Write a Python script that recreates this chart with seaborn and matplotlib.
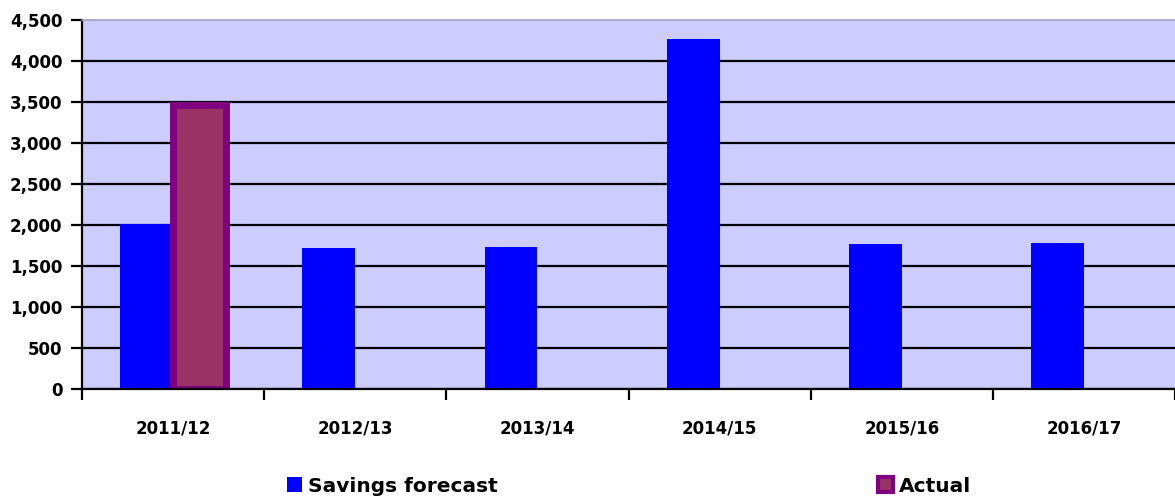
import numpy as np
import pandas as pd
import matplotlib
matplotlib.use("Agg")
import matplotlib.pyplot as plt
import seaborn as sns
from matplotlib.patches import Patch
from matplotlib.ticker import FuncFormatter, FixedLocator

# chart data
years = ["2011/12", "2012/13", "2013/14", "2014/15", "2015/16", "2016/17"]
savings_forecast = [2010, 1720, 1730, 4270, 1770, 1780]
actual = [3460, np.nan, np.nan, np.nan, np.nan, np.nan]
series_names = ["Savings forecast", "Actual"]
y_ticks = [0, 500, 1000, 1500, 2000, 2500, 3000, 3500, 4000, 4500]

sns.set_theme(style="white")
plt.rcParams["font.family"] = ["DejaVu Sans"]
plt.rcParams["font.weight"] = "bold"
plt.rcParams["text.color"] = "black"

df = pd.DataFrame({
    "Year": years * 2,
    "Value": savings_forecast + actual,
    "Series": [series_names[0]] * len(years) + [series_names[1]] * len(years),
})

fig = plt.figure(figsize=(11.75, 5), dpi=100)
ax = fig.add_axes([82 / 1175, 111 / 500, 1 - 82 / 1175, 369 / 500])
ax.set_facecolor("#CCCCFF")

palette = {"Savings forecast": "#0000FF", "Actual": "#993366"}
sns.barplot(data=df, x="Year", y="Value", hue="Series", hue_order=series_names,
            palette=palette, saturation=1, width=0.58, ax=ax, legend=False)

# style the actual bar with thick purple border
for bar in ax.containers[1]:
    bar.set_edgecolor("#800080")
    bar.set_linewidth(5)
for bar in ax.containers[0]:
    bar.set_linewidth(0)

ax.set_xlim(-0.5, len(years) - 0.5)
ax.set_ylim(0, 4500)
ax.set_yticks(y_ticks)
ax.yaxis.set_major_formatter(FuncFormatter(lambda v, p: f"{int(v):,}"))

ax.set_axisbelow(True)
ax.yaxis.grid(True, color="black", linewidth=1.6)
ax.xaxis.grid(False)
ax.yaxis.get_gridlines()[-1].set_visible(False)

for side in ["left", "bottom"]:
    ax.spines[side].set_color("black")
    ax.spines[side].set_linewidth(1.6)
ax.spines["top"].set_color("#A0A0C8")
ax.spines["top"].set_linewidth(1.2)
ax.spines["right"].set_visible(False)

ax.set_xlabel("")
ax.set_ylabel("")

# category boundary ticks
ax.xaxis.set_minor_locator(FixedLocator(np.arange(-0.5, len(years), 1.0)))
ax.tick_params(axis="x", which="major", length=0, pad=22, labelsize=12, labelcolor="black")
ax.tick_params(axis="x", which="minor", length=8, width=1.6, color="black", direction="out", bottom=True)
ax.tick_params(axis="y", which="major", length=8, width=1.6, color="black", direction="out",
               left=True, pad=6, labelsize=12, labelcolor="black")
for lbl in ax.get_xticklabels() + ax.get_yticklabels():
    lbl.set_fontweight("bold")

handles = [
    Patch(facecolor="#0000FF", edgecolor="#0000FF", linewidth=0),
    Patch(facecolor="#993366", edgecolor="#800080", linewidth=3),
]
leg = fig.legend(handles, series_names, loc="center left", bbox_to_anchor=(287 / 1175, 14 / 500),
                 ncol=2, frameon=False, handlelength=0.75, handleheight=0.75,
                 handletextpad=0.3, columnspacing=18.85, borderpad=0, borderaxespad=0,
                 labelcolor="black", prop={"size": 14.5, "weight": "bold"})

fig.savefig("out.png", dpi=100)
